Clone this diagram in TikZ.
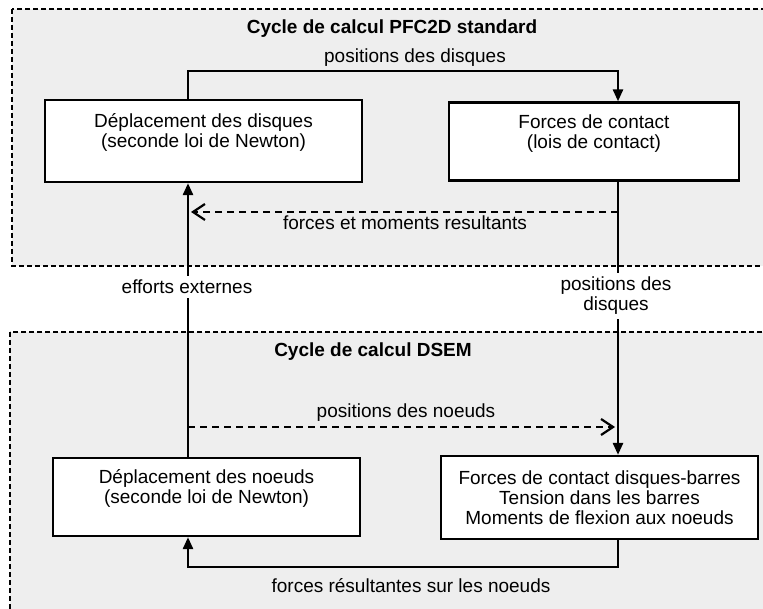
\documentclass[tikz,border=0pt]{standalone}
\usepackage{fontspec}
\setmainfont{Liberation Sans}
\usetikzlibrary{arrows.meta}
\definecolor{panelgray}{RGB}{238,238,238}

\begin{document}
\begin{tikzpicture}[
    x=1pt, y=-1pt,
    font=\fontsize{19}{20}\selectfont,
    >={Triangle[length=12pt,width=10pt]},
    panel/.style={draw=black, fill=panelgray, dash pattern=on 5pt off 3pt, line width=1.4pt},
    stage/.style={rectangle, draw=black, fill=white, line width=2.3pt, align=center, inner sep=0pt},
    cyctitle/.style={font=\fontsize{19}{20}\selectfont\bfseries},
    lbl/.style={inner sep=1pt, align=center},
    gap/.style={fill=white, inner sep=4pt, align=center},
    feedback/.style={line width=2.2pt, dash pattern=on 7pt off 5pt, -{Straight Barb[length=12pt,width=16pt]}}
]
\useasboundingbox (0,0) rectangle (763,609);

% Panels
\draw[panel] (12,9) rectangle (780,266);
\draw[panel] (10,332) rectangle (780,630);
\node[cyctitle] (title_pfc) at (392,29) {Cycle de calcul PFC2D standard};
\node[cyctitle] (title_dsem) at (373,352) {Cycle de calcul DSEM};

% PFC2D cycle
\node[stage, minimum width=317pt, minimum height=82pt] (depdisq) at (203.5,141) {D\'eplacement des disques\\ (seconde loi de Newton)\\ \mbox{}};
\node[stage, minimum width=290pt, minimum height=78pt] (forces) at (594,141.5) {Forces de contact\\ (lois de contact)\\ \mbox{}};

% DSEM cycle
\node[stage, minimum width=307pt, minimum height=78pt] (depnoeud) at (206.5,497) {D\'eplacement des noeuds\\ (seconde loi de Newton)\\ \mbox{}};
\node[stage, minimum width=317pt, minimum height=83pt] (forcebar) at (599.5,497.5) {Forces de contact disques-barres\\ Tension dans les barres\\ Moments de flexion aux noeuds};

\coordinate (colL) at (188,0);
\coordinate (colR) at (618,0);
\coordinate (fmr) at (618,212);
\coordinate (pnd) at (188,427);

% Arrows
\draw[->, line width=2.6pt] (depdisq.north -| colL) -- ++(0,-28) -| (forces.north -| colR);
\draw[feedback, shorten >=3pt] (fmr) -- (fmr -| colL);
\draw[->, line width=2.6pt] (depnoeud.north -| colL) -- (depdisq.south -| colL);
\draw[->, line width=2.6pt] (forces.south -| colR) -- (forcebar.north -| colR);
\draw[feedback, shorten >=3pt] (pnd) -- (pnd -| colR);
\draw[->, line width=2.6pt] (forcebar.south -| colR) -- ++(0,27) -| (depnoeud.south -| colL);

% Labels
\node[lbl] (lbl_posdisq) at (415,58) {positions des disques};
\node[lbl] (lbl_fmr) at (405,223) {forces et moments resultants};
\node[gap] (lbl_ext) at (187,287) {efforts externes};
\node[gap] (lbl_disq) at (616,296) {positions des\\ disques};
\node[lbl] (lbl_posnd) at (406,413) {positions des noeuds};
\node[lbl] (lbl_fres) at (411,586) {forces r\'esultantes sur les noeuds};

\end{tikzpicture}
\end{document}
